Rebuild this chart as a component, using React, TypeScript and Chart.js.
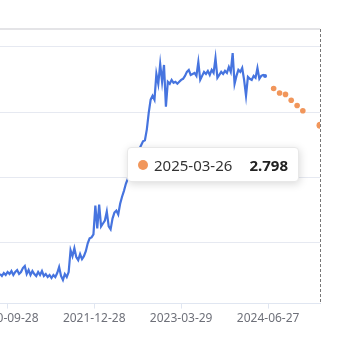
import React, { useEffect, useRef } from "react";
import { Chart, registerables } from "chart.js";

Chart.register(...registerables);

// ---------- data ----------
const HIST_START = "2020-08-21";
const HIST_STEP_DAYS = 10;
const histValues = [
  0.523, 0.492, 0.538, 0.508, 0.553, 0.523, 0.568, 0.508, 0.553, 0.583,
  0.523, 0.553, 0.614, 0.644, 0.523, 0.583, 0.508, 0.568, 0.523, 0.492,
  0.553, 0.508, 0.568, 0.492, 0.523, 0.477, 0.508, 0.462, 0.508, 0.477,
  0.538, 0.629, 0.492, 0.432, 0.523, 0.477, 0.553, 0.886, 0.795, 0.917,
  0.78, 0.735, 0.826, 0.75, 0.795, 0.871, 0.992, 1.068, 1.083, 1.129,
  1.568, 1.22, 1.583, 1.25, 1.295, 1.341, 1.477, 1.25, 1.205, 1.371,
  1.462, 1.492, 1.432, 1.598, 1.705, 1.795, 1.902, 1.977, 2.053, 2.129,
  2.205, 2.28, 2.356, 2.432, 2.492, 2.553, 2.568, 2.735, 2.992, 3.189,
  3.25, 3.189, 3.583, 3.432, 3.735, 3.462, 3.72, 3.083, 3.462, 3.432,
  3.492, 3.447, 3.462, 3.432, 3.462, 3.492, 3.508, 3.553, 3.614, 3.644,
  3.568, 3.583, 3.598, 3.553, 3.765, 3.492, 3.553, 3.614, 3.583, 3.629,
  3.568, 3.644, 3.598, 3.826, 3.523, 3.568, 3.614, 3.583, 3.629, 3.598,
  3.689, 3.614, 3.902, 3.432, 3.553, 3.644, 3.614, 3.674, 3.492, 3.25,
  3.538, 3.508, 3.492, 3.553, 3.523, 3.674, 3.508, 3.553, 3.568, 3.553,
];
const forecastDates = [
  "2024-07-26", "2024-08-26", "2024-09-26", "2024-10-26",
  "2024-11-26", "2024-12-26", "2025-03-26",
];
const forecastValues = [3.36, 3.29, 3.27, 3.18, 3.1, 3.02, 2.798];
const xTickDates = ["2020-09-28", "2021-12-28", "2023-03-29", "2024-06-27"];
const X_MIN_DATE = "2020-08-21";
const X_MAX_DATE = "2025-03-26";
const Y_MIN = 0.07;
const Y_MAX = 4.27;
const yGridValues = [1, 2, 3, 4];
const HOVER_INDEX = forecastDates.length - 1;

// ---------- helpers ----------
const DAY_MS = 86400000;
const toDay = (s: string) => Date.parse(s + "T00:00:00Z") / DAY_MS;
const fmtDay = (d: number) => new Date(Math.round(d) * DAY_MS).toISOString().slice(0, 10);

const BLUE = "#4674df";
const ORANGE = "#f1965b";
const FONT = "'Noto Sans', 'Open Sans', sans-serif";

export default function App() {
  const ref = useRef<HTMLCanvasElement | null>(null);

  useEffect(() => {
    if (!ref.current) return;
    const start = toDay(HIST_START);
    const histPoints = histValues.map((v, i) => ({ x: start + i * HIST_STEP_DAYS, y: v }));
    const fcPoints = forecastDates.map((d, i) => ({ x: toDay(d), y: forecastValues[i] }));
    const lastHist = histPoints.length - 1;

    const hoverLine = {
      id: "hoverLine",
      beforeDatasetsDraw(chart: any) {
        const { ctx, chartArea, scales } = chart;
        const x = scales.x.getPixelForValue(toDay(forecastDates[HOVER_INDEX]));
        ctx.save();
        ctx.strokeStyle = "rgba(95,95,95,0.85)";
        ctx.lineWidth = 1;
        ctx.setLineDash([3, 2]);
        ctx.beginPath();
        ctx.moveTo(Math.round(x) + 0.5, chartArea.top);
        ctx.lineTo(Math.round(x) + 0.5, chartArea.bottom);
        ctx.stroke();
        ctx.restore();
      },
    };

    const chart = new Chart(ref.current, {
      type: "line",
      data: {
        datasets: [
          {
            data: histPoints,
            borderColor: BLUE,
            backgroundColor: BLUE,
            borderWidth: 2.2,
            tension: 0,
            pointRadius: (c: any) => (c.dataIndex === lastHist ? 2 : 0),
            pointBorderWidth: 0,
          },
          {
            data: fcPoints,
            showLine: false,
            borderColor: ORANGE,
            backgroundColor: ORANGE,
            pointBackgroundColor: ORANGE,
            pointBorderWidth: 0,
            pointRadius: (c: any) => (c.dataIndex === HOVER_INDEX ? 3.5 : 2.8),
          },
        ],
      },
      options: {
        responsive: false,
        animation: false,
        layout: { padding: { top: 29, right: 30, bottom: 9, left: 0 }, autoPadding: false } as any,
        plugins: { legend: { display: false }, tooltip: { enabled: false } },
        scales: {
          x: {
            type: "linear",
            min: toDay(X_MIN_DATE),
            max: toDay(X_MAX_DATE),
            afterBuildTicks: (s: any) => {
              s.ticks = xTickDates.map((d) => ({ value: toDay(d) }));
            },
            afterFit: (s: any) => {
              s.paddingLeft = 0;
              s.paddingRight = 0;
            },
            ticks: {
              callback: (v: any) => fmtDay(Number(v)),
              color: "#6e7079",
              font: { size: 12, family: FONT },
              maxRotation: 0,
              autoSkip: false,
              padding: 3,
            },
            grid: { drawOnChartArea: false, drawTicks: true, tickLength: 5, color: "#e0e6f1" },
            border: { display: true, color: "#e0e6f1" },
          },
          y: {
            type: "linear",
            min: Y_MIN,
            max: Y_MAX,
            afterBuildTicks: (s: any) => {
              s.ticks = [Y_MIN, ...yGridValues, Y_MAX].map((v) => ({ value: v }));
            },
            afterFit: (s: any) => {
              s.width = 0;
            },
            ticks: { display: false },
            grid: {
              drawTicks: false,
              color: (c: any) => (c.tick && c.tick.value === Y_MAX ? "#e4e4e7" : "#e6e9f1"),
              lineWidth: (c: any) => (c.tick && c.tick.value === Y_MAX ? 2 : 1),
            },
            border: { display: false },
          },
        },
      } as any,
      plugins: [hoverLine],
    });
    return () => chart.destroy();
  }, []);

  const hoverDate = forecastDates[HOVER_INDEX];
  const hoverValue = forecastValues[HOVER_INDEX];

  return (
    <div style={{ position: "fixed", left: 0, top: 0, width: 350, height: 338, background: "#fff", overflow: "hidden" }}>
      <canvas ref={ref} width={350} height={338} style={{ display: "block" }} />
      <div
        style={{
          position: "absolute",
          left: 127,
          top: 147,
          width: 172,
          height: 35,
          boxSizing: "border-box",
          background: "#fff",
          borderRadius: 4,
          border: "1px solid #e8e8e8",
          boxShadow: "1px 2px 8px rgba(0,0,0,0.15)",
          display: "flex",
          alignItems: "center",
          padding: "0 10px 0 10px",
          fontFamily: FONT,
          fontSize: 15,
          color: "#333",
        }}
      >
        <span
          style={{
            display: "inline-block",
            width: 10,
            height: 10,
            borderRadius: 5,
            background: ORANGE,
            marginRight: 6,
            flex: "none",
          }}
        />
        <span style={{ flex: 1 }}>{hoverDate}</span>
        <span style={{ fontWeight: 700, color: "#222" }}>{hoverValue.toFixed(3)}</span>
      </div>
    </div>
  );
}
